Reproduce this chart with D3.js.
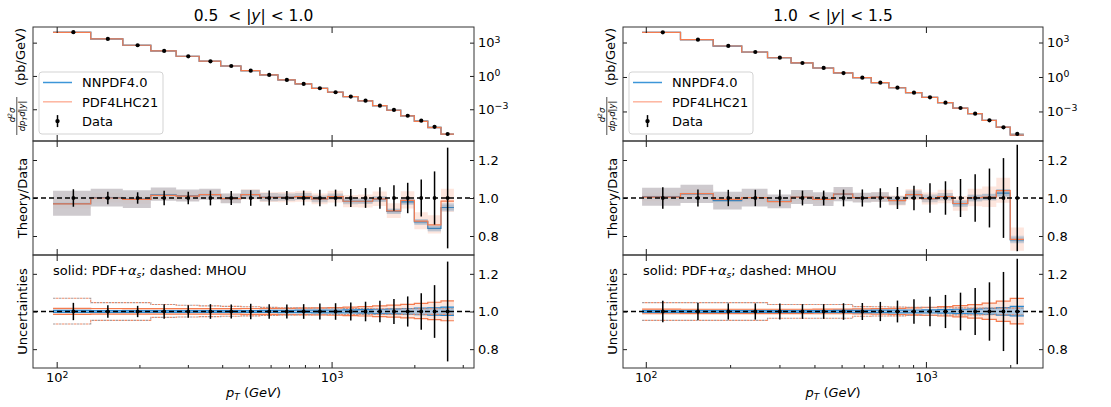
<!DOCTYPE html>
<html>
<head>
<meta charset="utf-8">
<script src="https://cdn.jsdelivr.net/npm/d3@7"></script>
<style>
body { margin: 0; background: #fff; }
text { font-family: "DejaVu Sans", sans-serif; }
</style>
</head>
<body>
<script>
// ---- data: 0.5 < |y| < 1.0 ----
var edgesL = [97,133,174,220,272,330,395,468,548,638,737,846,967,1101,1248,1410,1588,1784,2000,2238,2500,2787];
var xsecL = [8700,2150,585,180,59,21,7.9,3.0,1.23,0.44,0.19,0.078,0.034,0.0138,0.0059,0.0021,8.7e-4,2.6e-4,9.4e-5,2.6e-5,5.9e-6];
var ratioNNL = [0.970,1.002,0.994,1.017,1.011,1.018,0.997,1.018,1.004,1.004,1.007,0.995,1.007,0.983,0.983,0.994,0.930,0.980,0.874,0.840,0.950];
var ratioPDL = [0.969,1.000,0.993,1.014,1.010,1.018,0.997,1.018,1.004,1.004,1.007,0.995,1.007,0.983,0.983,0.995,0.932,0.988,0.878,0.859,0.984];
var errL = [0.046,0.033,0.030,0.038,0.033,0.039,0.037,0.041,0.039,0.037,0.039,0.043,0.044,0.048,0.052,0.057,0.067,0.080,0.097,0.140,0.265];
var mhouUpL = [0.070,0.047,0.047,0.037,0.033,0.030,0.027,0.025,0.022,0.020,0.019,0.018,0.017,0.016,0.016,0.015,0.015,0.015,0.015,0.015,0.015];
var mhouDnL = [0.066,0.047,0.047,0.031,0.029,0.027,0.025,0.023,0.021,0.019,0.018,0.017,0.016,0.016,0.015,0.015,0.015,0.015,0.015,0.015,0.015];
var pdfUpL = [0.017,0.016,0.015,0.015,0.015,0.015,0.015,0.016,0.016,0.017,0.018,0.019,0.021,0.023,0.026,0.030,0.034,0.038,0.043,0.049,0.056];
var pdfDnL = [0.015,0.014,0.014,0.014,0.014,0.014,0.014,0.015,0.015,0.016,0.017,0.018,0.020,0.022,0.024,0.027,0.030,0.034,0.038,0.043,0.049];
var nnUpL = [0.006,0.005,0.005,0.005,0.005,0.005,0.005,0.005,0.006,0.006,0.007,0.007,0.008,0.009,0.010,0.012,0.014,0.016,0.018,0.020,0.023];
var nnDnL = [0.005,0.005,0.005,0.005,0.005,0.005,0.005,0.005,0.005,0.006,0.006,0.007,0.007,0.008,0.009,0.011,0.013,0.015,0.017,0.019,0.021];

// ---- data: 1.0 < |y| < 1.5 ----
var edgesR = [97,133,174,220,272,330,395,468,548,638,737,846,967,1101,1248,1410,1588,1784,2000,2238];
var xsecR = [7700,1750,500,149,48,16.5,6.1,2.2,0.87,0.32,0.117,0.043,0.017,0.0058,0.0020,6.4e-4,1.7e-4,4.2e-5,1.1e-5];
var ratioNNR = [1.007,1.022,0.986,1.002,0.982,1.005,0.993,1.020,1.002,1.005,0.987,1.017,0.997,1.006,0.970,1.000,1.004,1.026,0.780];
var ratioPDR = [1.005,1.023,0.993,1.002,0.981,1.005,0.993,1.021,1.002,1.005,0.986,1.018,0.997,1.007,0.971,1.002,1.005,1.039,0.782];
var errR = [0.057,0.045,0.043,0.043,0.043,0.039,0.039,0.044,0.045,0.051,0.058,0.065,0.078,0.088,0.100,0.125,0.155,0.210,0.280];
var mhouUpR = [0.047,0.047,0.047,0.047,0.037,0.037,0.037,0.037,0.026,0.025,0.024,0.022,0.021,0.020,0.019,0.018,0.018,0.018,0.018];
var mhouDnR = [0.047,0.047,0.047,0.047,0.036,0.036,0.036,0.036,0.025,0.024,0.023,0.021,0.020,0.019,0.018,0.018,0.017,0.017,0.017];
var pdfUpR = [0.013,0.012,0.012,0.012,0.012,0.012,0.013,0.013,0.014,0.015,0.017,0.019,0.022,0.026,0.031,0.037,0.045,0.055,0.070];
var pdfDnR = [0.012,0.011,0.011,0.011,0.011,0.011,0.012,0.012,0.013,0.014,0.016,0.018,0.021,0.024,0.029,0.035,0.042,0.052,0.066];
var nnUpR = [0.005,0.005,0.005,0.005,0.005,0.005,0.005,0.006,0.006,0.007,0.007,0.008,0.009,0.010,0.012,0.014,0.017,0.021,0.027];
var nnDnR = [0.005,0.005,0.005,0.005,0.005,0.005,0.005,0.005,0.006,0.006,0.007,0.007,0.008,0.009,0.011,0.013,0.015,0.019,0.023];

var ratioTicks = [0.8, 1.0, 1.2];
var xsecTicks = [1e3, 1e0, 1e-3];
var xsecTickExp = ['3', '0', '\u22123'];
var xMajor = [100, 1000];
var xMajorExp = ['2', '3'];
var xMinor = [200,300,400,500,600,700,800,900,2000,3000];

//some constants
var W = 1111, H = 407;
var rows = [{top: 27, bot: 141}, {top: 141, bot: 255}, {top: 255, bot: 368}];
var cBlue = '#2a88d0', cOrange = '#f47c50';

var svg = d3.select('body').append('svg')
  .attr('width', W).attr('height', H);

function sup(sel, base, exp) {
  sel.text(null);
  sel.append('tspan').text(base);
  sel.append('tspan').attr('dy', '-0.5em').attr('font-size', '0.72em').text(exp);
}

function panel(o) {
  var n = o.xsec.length;
  var lo = Math.log10(o.edges[0]), hi = Math.log10(o.edges[n]);
  var pad = 0.05 * (hi - lo);
  var x = d3.scaleLog().domain([Math.pow(10, lo - pad), Math.pow(10, hi + pad)]).range([o.x0, o.x1]);
  var mids = o.edges.slice(0, -1).map((e, i) => (e + o.edges[i + 1]) / 2);
  var yTop = d3.scaleLog().domain(o.ydom).range([rows[0].bot, rows[0].top]);
  var yR = d3.scaleLinear().domain([0.7, 1.3]).range([rows[1].bot, rows[1].top]);
  var yU = d3.scaleLinear().domain([0.7, 1.3]).range([rows[2].bot, rows[2].top]);

  // step helpers
  var sd = [];
  for (var i = 0; i <= n; i++) sd.push({e: o.edges[i], k: Math.min(i, n - 1)});
  function stepLine(y, fv) {
    return d3.line().curve(d3.curveStepAfter).x(d => x(d.e)).y(d => y(fv(d.k)))(sd);
  }
  function stepArea(y, f0, f1) {
    return d3.area().curve(d3.curveStepAfter).x(d => x(d.e))
      .y0(d => y(f0(d.k))).y1(d => y(f1(d.k)))(sd);
  }

  // clip paths
  rows.forEach(function (r, j) {
    svg.append('clipPath').attr('id', 'clip' + o.id + j)
      .append('rect').attr('x', o.x0).attr('y', r.top)
      .attr('width', o.x1 - o.x0).attr('height', r.bot - r.top);
  });

  // ---- top panel: cross section ----
  var g0 = svg.append('g').attr('clip-path', 'url(#clip' + o.id + '0)');
  g0.append('path').attr('d', stepLine(yTop, k => o.xsec[k] * 0.985))
    .attr('fill', 'none').attr('stroke', '#b0b0b0').attr('stroke-width', 1.4);
  g0.append('path').attr('d', stepLine(yTop, k => o.xsec[k] * o.ratioNN[k]))
    .attr('fill', 'none').attr('stroke', cBlue).attr('stroke-width', 1.2);
  g0.append('path').attr('d', stepLine(yTop, k => o.xsec[k] * o.ratioPD[k]))
    .attr('fill', 'none').attr('stroke', cOrange).attr('stroke-width', 1.2);
  g0.selectAll('circle').data(o.xsec).enter().append('circle')
    .attr('cx', (d, i) => x(mids[i])).attr('cy', d => yTop(d))
    .attr('r', 2.1).attr('fill', '#000');

  // ---- middle panel: theory/data ----
  var g1 = svg.append('g').attr('clip-path', 'url(#clip' + o.id + '1)');
  g1.append('path').attr('d', stepArea(yR, k => o.ratioPD[k] * (1 - o.pdfDn[k] - 0.01), k => o.ratioPD[k] * (1 + o.pdfUp[k] + 0.01)))
    .attr('fill', '#fbd2c3').attr('opacity', 0.55);
  g1.append('path').attr('d', stepArea(yR, k => o.ratioNN[k] * (1 - o.mhouDn[k]), k => o.ratioNN[k] * (1 + o.mhouUp[k])))
    .attr('fill', '#c6c1c6').attr('opacity', 0.85);
  g1.append('path').attr('d', stepArea(yR, k => o.ratioNN[k] * (1 - o.nnDn[k]), k => o.ratioNN[k] * (1 + o.nnUp[k])))
    .attr('fill', '#9fb8d0').attr('opacity', 0.5);
  g1.append('path').attr('d', stepLine(yR, k => o.ratioNN[k]))
    .attr('fill', 'none').attr('stroke', '#3f82b8').attr('stroke-width', 1.2);
  g1.append('path').attr('d', stepLine(yR, k => o.ratioPD[k]))
    .attr('fill', 'none').attr('stroke', cOrange).attr('stroke-width', 1.2);

  // ---- bottom panel: uncertainties ----
  var g2 = svg.append('g').attr('clip-path', 'url(#clip' + o.id + '2)');
  g2.append('path').attr('d', stepArea(yU, k => 1 - o.pdfDn[k], k => 1 + o.pdfUp[k]))
    .attr('fill', '#fbc3ae').attr('opacity', 0.4);
  g2.append('path').attr('d', stepArea(yU, k => 1 - o.nnDn[k], k => 1 + o.nnUp[k]))
    .attr('fill', '#7fb6e2').attr('opacity', 0.6);
  [k => 1 + o.pdfUp[k], k => 1 - o.pdfDn[k]].forEach(function (f) {
    g2.append('path').attr('d', stepLine(yU, f))
      .attr('fill', 'none').attr('stroke', cOrange).attr('stroke-width', 1.2);
  });
  [k => 1 + o.nnUp[k], k => 1 - o.nnDn[k]].forEach(function (f) {
    g2.append('path').attr('d', stepLine(yU, f))
      .attr('fill', 'none').attr('stroke', cBlue).attr('stroke-width', 1.2);
  });
  [k => 1 + o.mhouUp[k], k => 1 - o.mhouDn[k]].forEach(function (f) {
    g2.append('path').attr('d', stepLine(yU, f))
      .attr('fill', 'none').attr('stroke', '#a89a9a').attr('stroke-width', 1.1)
      .attr('stroke-dasharray', '2.5,3.5');
    g2.append('path').attr('d', stepLine(yU, f))
      .attr('fill', 'none').attr('stroke', '#ef8a68').attr('stroke-width', 1.1)
      .attr('stroke-dasharray', '2.5,3.5').attr('stroke-dashoffset', 3);
  });

  // dashed line at 1 and data errorbars (middle + bottom)
  [[g1, yR], [g2, yU]].forEach(function (p) {
    var g = p[0], y = p[1];
    g.append('line').attr('x1', o.x0).attr('x2', o.x1)
      .attr('y1', y(1)).attr('y2', y(1))
      .attr('stroke', '#000').attr('stroke-width', 1.3).attr('stroke-dasharray', '5,3');
    g.selectAll('.eb').data(o.err).enter().append('line')
      .attr('x1', (d, i) => x(mids[i])).attr('x2', (d, i) => x(mids[i]))
      .attr('y1', d => y(1 - d)).attr('y2', d => y(1 + d))
      .attr('stroke', '#000').attr('stroke-width', 1.5);
    g.selectAll('.pt').data(o.err).enter().append('circle')
      .attr('cx', (d, i) => x(mids[i])).attr('cy', y(1)).attr('r', 1.9).attr('fill', '#000');
  });

  // ---- axes ----
  rows.forEach(function (r, j) {
    svg.append('g').attr('transform', 'translate(0,' + r.top + ')')
      .call(d3.axisTop(x).tickValues(xMajor).tickSize(-6).tickFormat(''));
    var xb = svg.append('g').attr('transform', 'translate(0,' + r.bot + ')')
      .call(d3.axisBottom(x).tickValues(xMajor).tickSize(-6).tickPadding(5)
        .tickFormat(j === 2 ? (d => d) : ''));
    if (j === 2) {
      xb.selectAll('text').each(function (d, i) { sup(d3.select(this), '10', xMajorExp[i]); });
      svg.append('g').attr('transform', 'translate(0,' + r.bot + ')')
        .call(d3.axisBottom(x).tickValues(xMinor.filter(v => v < x.domain()[1])).tickSize(-3).tickFormat(''));
    }
    var ys = [yTop, yR, yU][j];
    var tv = j === 0 ? xsecTicks : ratioTicks;
    svg.append('g').attr('transform', 'translate(' + o.x0 + ',0)')
      .call(d3.axisLeft(ys).tickValues(tv).tickSize(-4).tickFormat(''));
    var yr = svg.append('g').attr('transform', 'translate(' + o.x1 + ',0)')
      .call(d3.axisRight(ys).tickValues(tv).tickSize(-4).tickPadding(4)
        .tickFormat(j === 0 ? (d => d) : d3.format('.1f')));
    if (j === 0) {
      yr.selectAll('text').each(function (d, i) { sup(d3.select(this), '10', xsecTickExp[i]); });
    }
    svg.append('rect').attr('x', o.x0).attr('y', r.top)
      .attr('width', o.x1 - o.x0).attr('height', r.bot - r.top)
      .attr('fill', 'none').attr('stroke', '#333').attr('stroke-width', 1);
  });
  svg.selectAll('.domain').remove();
  svg.selectAll('.tick line').attr('stroke', '#000').attr('stroke-width', 0.9);
  svg.selectAll('.tick text').attr('font-size', 13).attr('fill', '#000')
    .attr('font-family', '"DejaVu Sans", sans-serif');

  // ---- texts ----
  var cx = (o.x0 + o.x1) / 2;
  var t = svg.append('text').attr('x', cx).attr('y', 21).attr('text-anchor', 'middle')
    .attr('font-size', 15.5).style('white-space', 'pre');
  t.append('tspan').text(o.lo + '  < |');
  t.append('tspan').attr('font-style', 'italic').text('y');
  t.append('tspan').text('| < ' + o.hi);

  var xl = svg.append('text').attr('x', cx).attr('y', 397).attr('text-anchor', 'middle').attr('font-size', 13);
  xl.append('tspan').attr('font-style', 'italic').text('p');
  xl.append('tspan').attr('font-style', 'italic').attr('font-size', 9).attr('dy', 3).text('T');
  xl.append('tspan').attr('dy', -3).text(' (');
  xl.append('tspan').attr('font-style', 'italic').text('GeV');
  xl.append('tspan').text(')');

  var off = o.x0 - 33;
  svg.append('text').attr('transform', 'translate(' + (27 + off) + ',198) rotate(-90)')
    .attr('text-anchor', 'middle').attr('font-size', 13).text('Theory/Data');
  svg.append('text').attr('transform', 'translate(' + (27 + off) + ',311.5) rotate(-90)')
    .attr('text-anchor', 'middle').attr('font-size', 13).text('Uncertainties');

  var yl = svg.append('g').attr('transform', 'translate(' + off + ',0) rotate(-90)');
  yl.append('text').attr('x', -57).attr('y', 24.5).attr('text-anchor', 'middle')
    .attr('font-size', 13).text('(pb/GeV)');
  var num = yl.append('text').attr('x', -115).attr('y', 14.5).attr('text-anchor', 'middle')
    .attr('font-size', 8.5).attr('font-style', 'italic');
  num.append('tspan').text('d');
  num.append('tspan').attr('dy', -3).attr('font-size', 6).text('2');
  num.append('tspan').attr('dy', 3).text('\u03c3');
  yl.append('line').attr('x1', -135).attr('x2', -97).attr('y1', 16.8).attr('y2', 16.8)
    .attr('stroke', '#000').attr('stroke-width', 0.7);
  var den = yl.append('text').attr('x', -116).attr('y', 24.5).attr('text-anchor', 'middle')
    .attr('font-size', 8.5).attr('font-style', 'italic');
  den.append('tspan').text('dp');
  den.append('tspan').attr('dy', 2).attr('font-size', 6).text('T');
  den.append('tspan').attr('dy', -2).text('d|y|');

  var note = svg.append('text').attr('x', o.x0 + 20).attr('y', 274.5).attr('font-size', 13);
  note.append('tspan').text('solid: PDF+');
  note.append('tspan').attr('font-style', 'italic').text('\u03b1');
  note.append('tspan').attr('font-style', 'italic').attr('font-size', 9).attr('dy', 3).text('s');
  note.append('tspan').attr('dy', -3).text('; dashed: MHOU');

  // legend
  var lx = o.x0 + 6, ly = 72;
  var lg = svg.append('g').attr('transform', 'translate(' + lx + ',' + ly + ')');
  lg.append('rect').attr('width', 124).attr('height', 62).attr('rx', 3)
    .attr('fill', '#fff').attr('fill-opacity', 0.8).attr('stroke', '#d3d3d3');
  var entries = [{name: 'NNPDF4.0', col: '#3c96d8'}, {name: 'PDF4LHC21', col: '#fdb59f'}, {name: 'Data'}];
  entries.forEach(function (e, i) {
    var yy = 10.5 + i * 19.3;
    if (e.col) {
      lg.append('line').attr('x1', 4).attr('x2', 33).attr('y1', yy).attr('y2', yy)
        .attr('stroke', e.col).attr('stroke-width', 1.5);
    } else {
      lg.append('line').attr('x1', 18.5).attr('x2', 18.5).attr('y1', yy - 6).attr('y2', yy + 6)
        .attr('stroke', '#000').attr('stroke-width', 1.5);
      lg.append('circle').attr('cx', 18.5).attr('cy', yy).attr('r', 2.2).attr('fill', '#000');
    }
    lg.append('text').attr('x', 43).attr('y', yy + 4.7).attr('font-size', 13).text(e.name);
  });
}

panel({id: 'L', x0: 33, x1: 474, edges: edgesL, xsec: xsecL, ratioNN: ratioNNL, ratioPD: ratioPDL,
  err: errL, mhouUp: mhouUpL, mhouDn: mhouDnL, pdfUp: pdfUpL, pdfDn: pdfDnL, nnUp: nnUpL, nnDn: nnDnL,
  ydom: [Math.pow(10, -5.86), Math.pow(10, 4.41)], lo: '0.5', hi: '1.0'});
panel({id: 'R', x0: 623, x1: 1043, edges: edgesR, xsec: xsecR, ratioNN: ratioNNR, ratioPD: ratioPDR,
  err: errR, mhouUp: mhouUpR, mhouDn: mhouDnR, pdfUp: pdfUpR, pdfDn: pdfDnR, nnUp: nnUpR, nnDn: nnDnR,
  ydom: [Math.pow(10, -5.57), Math.pow(10, 4.35)], lo: '1.0', hi: '1.5'});
</script>
</body>
</html>
